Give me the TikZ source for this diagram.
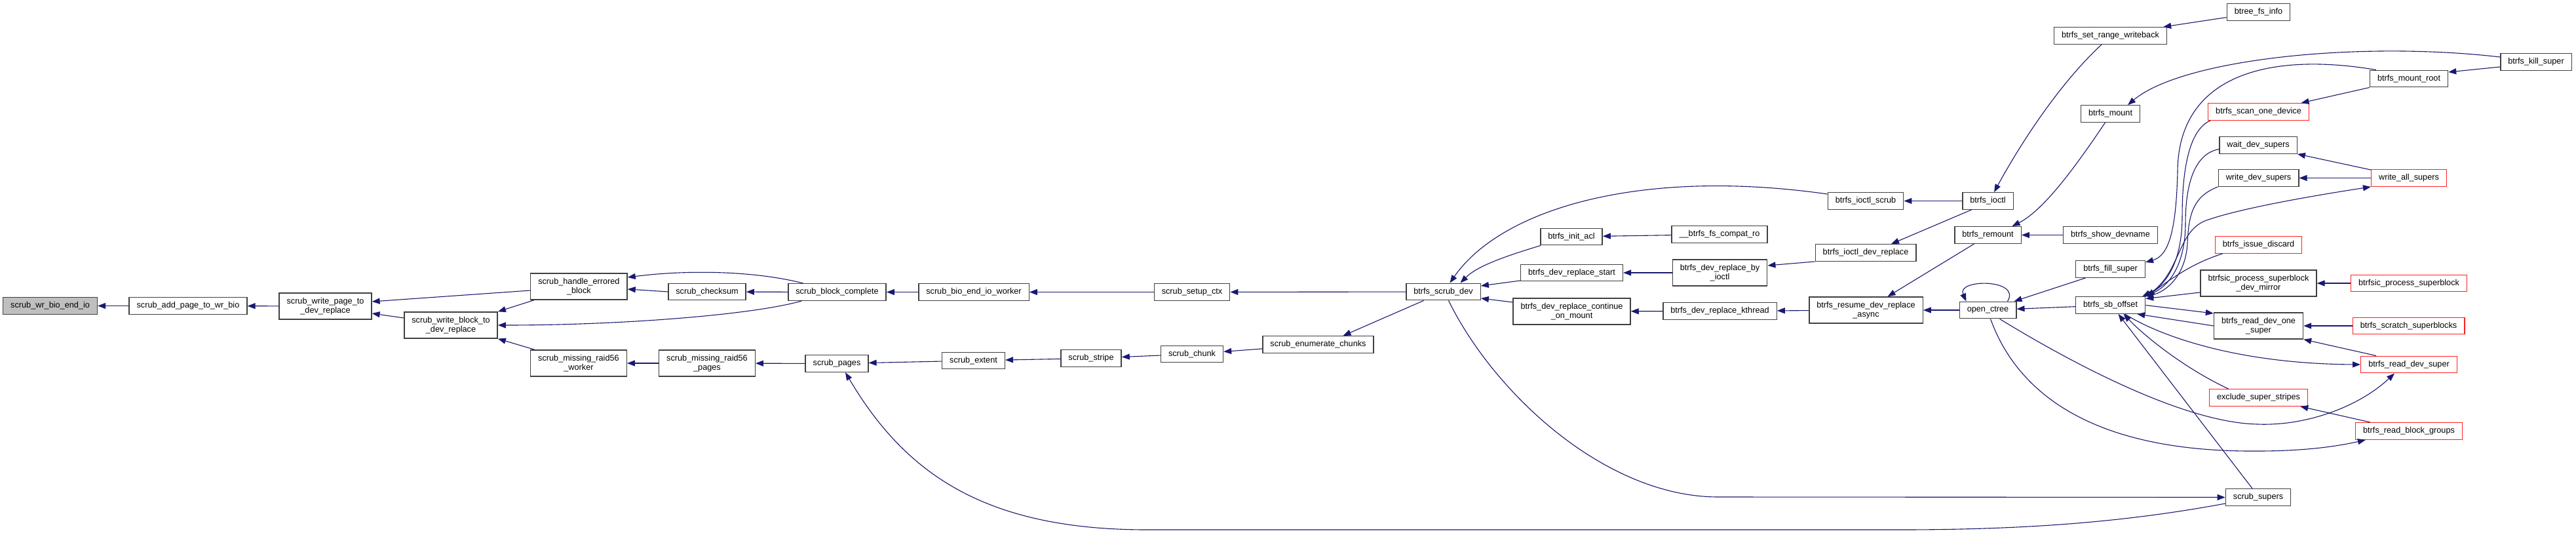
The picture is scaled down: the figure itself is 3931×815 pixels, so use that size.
\documentclass[tikz,border=0pt]{standalone}
\usepackage{fontspec}
\setmainfont{Liberation Sans}
\usetikzlibrary{arrows.meta}
\definecolor{edgeblue}{HTML}{191970}
\definecolor{boxline}{HTML}{404040}
\definecolor{truncred}{HTML}{FF2020}
\definecolor{rootfill}{HTML}{BFBFBF}
\tikzset{
  fnode/.style    = {draw=boxline, fill=white, line width=1.4pt, inner xsep=11.5pt,
                     inner ysep=0pt, minimum height=25.5pt, align=center,
                     font=\fontsize{12.7}{14.3}\selectfont},
  twoline/.style  = {minimum height=40pt},
  rednode/.style  = {fnode, draw=truncred},
  rootnode/.style = {fnode, fill=rootfill},
  callar/.style   = {-{Triangle[length=12pt,width=9pt]}, edgeblue, line width=1.1pt}
}

\begin{document}
\begin{tikzpicture}[x=1pt,y=-1pt]
  \useasboundingbox (0,0) rectangle (3931,815);
  % scrub side
  \node[rootnode] (wrbio) at (76.6,466.5) {scrub\_wr\_bio\_end\_io};
  \node[fnode] (addpage) at (287,466.5) {scrub\_add\_page\_to\_wr\_bio};
  \node[fnode,twoline] (wrpage) at (496.5,467) {scrub\_write\_page\_to\\\_dev\_replace};
  \node[fnode,twoline] (wrblock) at (688,496) {scrub\_write\_block\_to\\\_dev\_replace};
  \node[fnode,twoline] (handle) at (883.4,437) {scrub\_handle\_errored\\\_block};
  \node[fnode] (checksum) at (1079,445) {scrub\_checksum};
  \node[fnode] (blkcomp) at (1277.5,445.5) {scrub\_block\_complete};
  \node[fnode,twoline] (r56worker) at (883,554) {scrub\_missing\_raid56\\\_worker};
  \node[fnode,twoline] (r56pages) at (1079,554) {scrub\_missing\_raid56\\\_pages};
  \node[fnode] (pages) at (1277,554.5) {scrub\_pages};
  \node[fnode] (bioworker) at (1486,445.5) {scrub\_bio\_end\_io\_worker};
  \node[fnode] (setupctx) at (1819,445.5) {scrub\_setup\_ctx};
  \node[fnode] (extent) at (1485.5,550) {scrub\_extent};
  \node[fnode] (stripe) at (1665,546.5) {scrub\_stripe};
  \node[fnode] (chunk) at (1819,540) {scrub\_chunk};
  \node[fnode] (enumchunks) at (2011.5,525.5) {scrub\_enumerate\_chunks};
  \node[fnode] (scrubdev) at (2202.5,445) {btrfs\_scrub\_dev};
  % dev replace and ioctl
  \node[fnode] (initacl) at (2398,361) {btrfs\_init\_acl};
  \node[fnode] (drstart) at (2398.5,416) {btrfs\_dev\_replace\_start};
  \node[fnode,twoline] (drcont) at (2398.5,475) {btrfs\_dev\_replace\_continue\\\_on\_mount};
  \node[fnode] (ioctlscrub) at (2847,306.5) {btrfs\_ioctl\_scrub};
  \node[fnode] (compatro) at (2624,357.5) {\_\_btrfs\_fs\_compat\_ro};
  \node[fnode] (ioctldr) at (2847,385.5) {btrfs\_ioctl\_dev\_replace};
  \node[fnode,twoline] (drbyioctl) at (2624.5,416) {btrfs\_dev\_replace\_by\\\_ioctl};
  \node[fnode] (drkthread) at (2624.5,474.5) {btrfs\_dev\_replace\_kthread};
  \node[fnode,twoline] (resume) at (2847.5,473) {btrfs\_resume\_dev\_replace\\\_async};
  \node[fnode] (ioctl) at (3033.5,306.5) {btrfs\_ioctl};
  \node[fnode] (remount) at (3033.5,358.5) {btrfs\_remount};
  \node[fnode] (octree) at (3033.5,473) {open\_ctree};
  % super block side
  \node[fnode] (setrange) at (3220.5,54.5) {btrfs\_set\_range\_writeback};
  \node[fnode] (btreefs) at (3446.5,18.5) {btree\_fs\_info};
  \node[fnode] (mount) at (3220.5,173.5) {btrfs\_mount};
  \node[fnode] (showdev) at (3220.5,358.5) {btrfs\_show\_devname};
  \node[fnode] (fillsuper) at (3220.5,410.5) {btrfs\_fill\_super};
  \node[fnode] (sboffset) at (3220.5,465.5) {btrfs\_sb\_offset};
  \node[rednode] (scanone) at (3446.5,170.5) {btrfs\_scan\_one\_device};
  \node[fnode] (waitdev) at (3446,221.5) {wait\_dev\_supers};
  \node[fnode] (writedev) at (3446.5,271.5) {write\_dev\_supers};
  \node[rednode] (discard) at (3446.5,373.5) {btrfs\_issue\_discard};
  \node[fnode,twoline] (psbmirror) at (3446.5,432) {btrfsic\_process\_superblock\\\_dev\_mirror};
  \node[fnode,twoline] (rdonesuper) at (3446.5,497) {btrfs\_read\_dev\_one\\\_super};
  \node[rednode] (exclude) at (3446.5,606.5) {exclude\_super\_stripes};
  \node[fnode] (scrubsupers) at (3446,758.5) {scrub\_supers};
  \node[fnode] (mountroot) at (3676,120) {btrfs\_mount\_root};
  \node[rednode] (writeall) at (3676,271.5) {write\_all\_supers};
  \node[rednode] (psb) at (3676,432) {btrfsic\_process\_superblock};
  \node[rednode] (scratch) at (3675.5,497) {btrfs\_scratch\_superblocks};
  \node[rednode] (rddevsuper) at (3676,556) {btrfs\_read\_dev\_super};
  \node[rednode] (rdbg) at (3676,657.5) {btrfs\_read\_block\_groups};
  \node[fnode] (killsuper) at (3870,94.5) {btrfs\_kill\_super};

  % calls, arrow at the callee
  \draw[callar] (addpage) -- (wrbio);
  \draw[callar] (wrpage) -- (addpage);
  \draw[callar] ([yshift=-6pt]handle.west) -- ([yshift=7pt]wrpage.east);
  \draw[callar] ([yshift=11pt]wrblock.west) -- ([yshift=-11pt]wrpage.east);
  \draw[callar] ([xshift=6pt]handle.south west) -- (wrblock.north east);
  \draw[callar] ([xshift=7pt]r56worker.north west) -- (wrblock.south east);
  \draw[callar] ([xshift=-54pt]blkcomp.south) .. controls (1150,480) and (950,496) .. (wrblock.east);
  \draw[callar] ([xshift=-52pt]blkcomp.north) .. controls (1160,415) and (1060,410) .. ([yshift=14pt]handle.east);
  \draw[callar] (checksum.west) -- ([yshift=-4pt]handle.east);
  \draw[callar] (blkcomp) -- (checksum);
  \draw[callar] (bioworker) -- (blkcomp);
  \draw[callar] (setupctx) -- (bioworker);
  \draw[callar] (scrubdev) -- (setupctx);
  \draw[callar] (r56pages) -- (r56worker);
  \draw[callar] (pages) -- (r56pages);
  \draw[callar] (extent) -- (pages);
  \draw[callar] (stripe) -- (extent);
  \draw[callar] (chunk) -- (stripe);
  \draw[callar] (enumchunks) -- (chunk);
  \draw[callar] ([xshift=-30pt]scrubdev.south) -- ([xshift=38pt]enumchunks.north);
  \draw[callar] ([xshift=-47pt]initacl.south) .. controls (2300,390) and (2255,405) .. ([xshift=26pt]scrubdev.north);
  \draw[callar] ([yshift=-12pt]drstart.west) -- ([yshift=9pt]scrubdev.east);
  \draw[callar] ([yshift=14pt]drcont.west) -- ([yshift=-10pt]scrubdev.east);
  \draw[callar] ([yshift=10.5pt]ioctlscrub.west) .. controls (2500,255) and (2290,320) .. ([xshift=10pt]scrubdev.north);
  \draw[callar] (compatro) -- (initacl);
  \draw[callar] (drbyioctl) -- (drstart);
  \draw[callar] (ioctldr.south west) -- ([yshift=11pt]drbyioctl.east);
  \draw[callar] (drkthread) -- (drcont);
  \draw[callar] (resume) -- (drkthread);
  \draw[callar] (ioctl) -- (ioctlscrub);
  \draw[callar] ([xshift=-25pt]ioctl.south) -- ([xshift=39pt]ioctldr.north);
  \draw[callar] ([xshift=-21pt]remount.south) -- ([xshift=33pt]resume.north);
  \draw[callar] (octree) -- (resume);
  \draw[callar] ([xshift=-13.5pt]setrange.south) .. controls (3140,130) and (3080,225) .. ([xshift=9.5pt]ioctl.north);
  \draw[callar] ([yshift=-8pt]btreefs.west) -- ([xshift=-6pt]setrange.north east);
  \draw[callar] ([yshift=7.5pt]killsuper.west) .. controls (3600,62) and (3330,90) .. ([xshift=26.5pt]mount.north);
  \draw[callar] ([yshift=-7.5pt]killsuper.west) -- ([yshift=10pt]mountroot.east);
  \draw[callar] (mountroot.south west) -- ([xshift=65pt]scanone.north);
  \draw[callar] ([xshift=10pt]mountroot.north west) .. controls (3470,80) and (3325,110) .. (3323,260)
                .. controls (3321,350) and (3310,390) .. ([yshift=10.5pt]fillsuper.east);
  \draw[callar] ([xshift=-8pt]mount.south) .. controls (3170,250) and (3120,320) .. ([xshift=37pt]remount.north);
  \draw[callar] (showdev) -- (remount);
  \draw[callar] ([xshift=4pt]scanone.south west) .. controls (3335,200) and (3330,280) .. (3330,330)
                .. controls (3330,400) and (3305,435) .. ([xshift=-5pt]sboffset.north east);
  \draw[callar] ([yshift=-6pt]waitdev.west) .. controls (3345,235) and (3335,290) .. (3335,340)
                .. controls (3335,410) and (3305,440) .. ([xshift=-3pt]sboffset.north east);
  \draw[callar] (writedev.south west) .. controls (3345,300) and (3340,330) .. (3338,370)
                .. controls (3336,420) and (3305,445) .. (sboffset.north east);
  \draw[callar] (sboffset.north east) .. controls (3330,420) and (3320,350) .. (3370,335)
                .. controls (3420,318) and (3520,300) .. (writeall.south west);
  \draw[callar] ([xshift=12pt]discard.south west) .. controls (3350,400) and (3320,420) .. ([xshift=2pt]sboffset.north east);
  \draw[callar] ([yshift=-14pt]psbmirror.west) -- ([yshift=10pt]sboffset.east);
  \draw[callar] (psb) -- (psbmirror);
  \draw[callar] (sboffset.east) -- ([yshift=19pt]rdonesuper.west);
  \draw[callar] (rdonesuper.west) -- ([xshift=-13pt]sboffset.south east);
  \draw[callar] (scratch) -- (rdonesuper);
  \draw[callar] ([xshift=24pt]rddevsuper.north west) -- (rdonesuper.south east);
  \draw[callar] ([xshift=22pt]sboffset.south) .. controls (3300,515) and (3420,555) .. (rddevsuper.west);
  \draw[callar] ([xshift=-46pt]exclude.north) .. controls (3330,560) and (3270,510) .. ([xshift=20pt]sboffset.south);
  \draw[callar] ([xshift=-9pt]scrubsupers.north) -- ([xshift=12pt]sboffset.south);
  \draw[callar] ([xshift=23pt]rdbg.north west) -- ([xshift=-12pt]exclude.south east);
  \draw[callar] ([xshift=18pt]octree.south) .. controls (3180,565) and (3340,645) .. (3445,647)
                .. controls (3520,650) and (3600,620) .. ([xshift=-22pt]rddevsuper.south);
  \draw[callar] ([xshift=4pt]octree.south) .. controls (3075,590) and (3180,690) .. (3445,688)
                .. controls (3520,688) and (3570,680) .. ([xshift=16pt]rdbg.south west);
  \draw[callar] ([yshift=-1pt]writeall.north west) -- (waitdev.south east);
  \draw[callar] (writeall) -- (writedev);
  \draw[callar] (sboffset) -- (octree);
  \draw[callar] ([xshift=-38pt]fillsuper.south) -- ([xshift=-4pt]octree.north east);
  \draw[callar] ([xshift=30pt]octree.north) .. controls (3085,425) and (2985,425) .. ([xshift=-33pt]octree.north);
  \draw[callar] ([xshift=8pt]scrubdev.south) .. controls (2280,600) and (2450,758) .. (2622,758) -- (scrubsupers.west);
  \draw[callar] ([yshift=-9.5pt]scrubsupers.west) .. controls (3250,795) and (3100,808) .. (2900,808) -- (1750,808)
                .. controls (1500,808) and (1380,720) .. ([xshift=13pt]pages.south);
\end{tikzpicture}
\end{document}
